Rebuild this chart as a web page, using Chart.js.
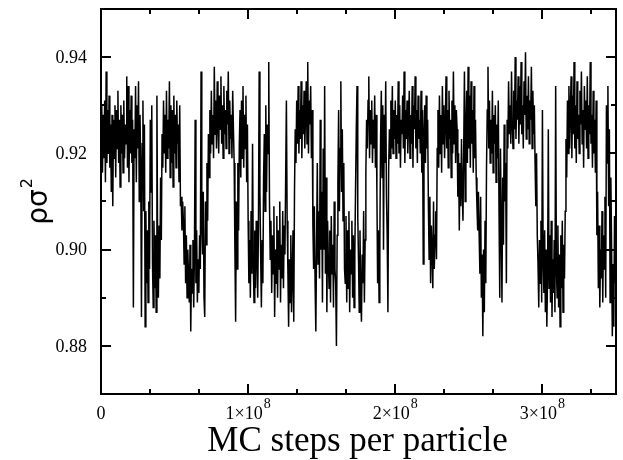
<!DOCTYPE html>
<html>
<head>
<meta charset="utf-8">
<script src="https://cdn.jsdelivr.net/npm/chart.js@4"></script>
<style>
  html, body { margin: 0; padding: 0; background: #fff; }
  #wrap { width: 623px; height: 460px; }
</style>
</head>
<body>
<div id="wrap"><canvas id="chartCanvas"></canvas></div>
<script>
// one sample every half million MC steps, density in units of 1e-3
const sampleEvery = 5e5;
const densityMilli = [
    921, 930, 916, 928, 919, 931, 914, 937, 918, 929, 920, 932, 917, 926, 912, 928, 909, 927, 919, 930,
    915, 929, 921, 933, 918, 927, 913, 930, 920, 928, 916, 931, 919, 926, 922, 936, 917, 934, 914, 929,
    920, 932, 918, 927, 888, 925, 919, 934, 914, 930, 921, 935, 910, 928, 917, 886, 922, 931, 908, 926,
    884, 908, 893, 904, 889, 910, 896, 927, 912, 930, 897, 888, 906, 892, 903, 887, 932, 899, 890, 905,
    894, 915, 902, 924, 917, 931, 920, 928, 916, 933, 919, 927, 921, 935, 915, 930, 918, 929, 913, 932,
    920, 928, 917, 931, 922, 926, 914, 930, 909, 911, 904, 910, 906, 897, 909, 893, 903, 890, 900, 894,
    889, 901, 883, 896, 891, 902, 888, 899, 927, 893, 904, 889, 898, 891, 903, 896, 937, 905, 899, 912,
    890, 886, 910, 901, 918, 906, 924, 915, 929, 920, 933, 922, 928, 919, 938, 924, 931, 921, 935, 926,
    920, 932, 925, 936, 922, 930, 919, 934, 924, 929, 921, 933, 926, 937, 920, 931, 923, 928, 919, 933,
    925, 918, 900, 885, 910, 896, 918, 904, 922, 929, 915, 931, 919, 934, 917, 928, 921, 932, 914, 926,
    906, 893, 902, 890, 908, 895, 922, 897, 889, 904, 892, 906, 899, 890, 905, 937, 912, 899, 888, 902,
    893, 915, 924, 908, 930, 912, 926, 920, 939, 910, 898, 906, 891, 903, 895, 909, 886, 900, 893, 907,
    890, 904, 896, 910, 889, 901, 894, 908, 892, 905, 899, 915, 931, 906, 896, 884, 898, 889, 903, 887,
    895, 904, 885, 912, 925, 918, 931, 922, 934, 920, 929, 923, 935, 919, 930, 924, 933, 921, 928, 935,
    922, 939, 920, 931, 926, 934, 919, 929, 905, 896, 909, 893, 883, 901, 918, 897, 908, 894, 927, 900,
    912, 889, 921, 900, 934, 895, 915, 887, 906, 898, 892, 904, 889, 907, 895, 901, 888, 910, 896, 893,
    880, 903, 914, 929, 908, 921, 935, 912, 925, 906, 918, 896, 893, 907, 889, 904, 892, 908, 887, 900,
    895, 906, 890, 903, 888, 899, 913, 925, 934, 907, 898, 887, 904, 891, 885, 899, 893, 908, 889, 902,
    916, 927, 921, 931, 936, 919, 929, 922, 931, 918, 927, 921, 932, 917, 928, 912, 893, 904, 889, 901,
    923, 933, 915, 930, 900, 928, 918, 935, 911, 903, 887, 917, 925, 919, 931, 921, 934, 920, 929, 923,
    931, 919, 928, 922, 935, 920, 930, 917, 927, 924, 932, 921, 937, 918, 929, 923, 931, 920, 926, 933,
    919, 928, 922, 934, 917, 930, 925, 936, 921, 929, 918, 932, 923, 927, 920, 933, 916, 929, 897, 924,
    930, 918, 932, 921, 927, 909, 898, 911, 893, 905, 900, 892, 910, 896, 903, 908, 898, 921, 929, 917,
    932, 920, 928, 916, 934, 922, 930, 919, 926, 936, 921, 929, 917, 933, 923, 927, 915, 931, 920, 937,
    922, 930, 918, 929, 925, 911, 920, 904, 918, 909, 923, 912, 906, 921, 937, 910, 925, 933, 918, 938,
    921, 932, 917, 935, 922, 929, 916, 934, 919, 927, 915, 909, 904, 912, 903, 895, 911, 890, 899, 882,
    900, 887, 906, 893, 917, 929, 938, 921, 931, 918, 927, 920, 933, 916, 928, 922, 930, 914, 926, 919,
    931, 908, 890, 921, 905, 889, 915, 901, 926, 910, 918, 893, 927, 921, 935, 924, 930, 922, 937, 926,
    921, 933, 925, 940, 923, 931, 927, 936, 922, 934, 926, 939, 924, 930, 921, 935, 928, 941, 923, 932,
    925, 936, 922, 931, 927, 938, 921, 933, 924, 930, 918, 909, 920, 903, 897, 888, 902, 893, 906, 889,
    929, 898, 891, 904, 887, 900, 884, 895, 925, 892, 903, 889, 906, 886, 898, 891, 902, 887, 934, 896,
    890, 905, 888, 899, 884, 903, 892, 906, 887, 901, 894, 908, 923, 915, 931, 920, 934, 921, 929, 936,
    919, 932, 924, 939, 921, 930, 918, 935, 923, 928, 920, 933, 926, 937, 922, 929, 917, 934, 925, 931,
    921, 936, 919, 930, 924, 939, 922, 928, 917, 933, 920, 927, 916, 931, 903, 912, 892, 905, 888, 900,
    894, 908, 889, 903, 896, 911, 890, 930, 918, 934, 909, 925, 889, 915, 901, 882, 897, 884, 907, 893
];

const xTickValues = [0, 1e8, 2e8, 3e8];
const xTickMantissa = ['0', '1×10', '2×10', '3×10'];
const xTickExponent = ['', '8', '8', '8'];
const xMinorStep = 1e8 / 3;
const yTickValues = [0.88, 0.90, 0.92, 0.94];
const yTickLabels = ['0.88', '0.90', '0.92', '0.94'];
const yMinorTicks = [0.87, 0.89, 0.91, 0.93, 0.95];

const serif = '"Liberation Serif", "Times New Roman", serif';
const sans = '"DejaVu Sans", sans-serif';

const points = densityMilli.map((v, i) => ({ x: i * sampleEvery, y: v / 1000 }));

function tick(ctx, x1, y1, x2, y2) {
    ctx.beginPath();
    ctx.moveTo(x1, y1);
    ctx.lineTo(x2, y2);
    ctx.stroke();
}

const framePlugin = {
    id: 'frame',
    afterDraw(chart) {
        const { ctx, chartArea: a, scales: { x, y } } = chart;
        ctx.save();
        ctx.strokeStyle = '#000';
        ctx.fillStyle = '#000';
        ctx.lineWidth = 2;
        ctx.strokeRect(a.left, a.top, a.right - a.left, a.bottom - a.top);

        // ticks point inward on all four sides
        for (let i = 0; i * xMinorStep < x.max; i++) {
            const px = Math.round(x.getPixelForValue(i * xMinorStep));
            const len = i % 3 === 0 ? 10 : 5;
            tick(ctx, px, a.bottom, px, a.bottom - len);
            tick(ctx, px, a.top, px, a.top + len);
        }
        yTickValues.concat(yMinorTicks).forEach(v => {
            const py = Math.round(y.getPixelForValue(v));
            const len = yTickValues.includes(v) ? 10 : 5;
            tick(ctx, a.left, py, a.left + len, py);
            tick(ctx, a.right, py, a.right - len, py);
        });

        // y tick labels
        ctx.font = '18px ' + serif;
        ctx.textAlign = 'right';
        ctx.textBaseline = 'middle';
        yTickValues.forEach((v, i) => {
            ctx.fillText(yTickLabels[i], a.left - 14, y.getPixelForValue(v) + 1);
        });

        // x tick labels, exponent raised
        ctx.textBaseline = 'alphabetic';
        ctx.textAlign = 'left';
        xTickValues.forEach((v, i) => {
            ctx.font = '18px ' + serif;
            const wMain = ctx.measureText(xTickMantissa[i]).width;
            ctx.font = '14px ' + serif;
            const wExp = xTickExponent[i] ? ctx.measureText(xTickExponent[i]).width + 1 : 0;
            const left = x.getPixelForValue(v) - (wMain + wExp) / 2;
            ctx.font = '18px ' + serif;
            ctx.fillText(xTickMantissa[i], left, a.bottom + 25);
            if (wExp) {
                ctx.font = '14px ' + serif;
                ctx.fillText(xTickExponent[i], left + wMain + 1, a.bottom + 14);
            }
        });

        // axis titles
        ctx.font = '35px ' + serif;
        ctx.textAlign = 'center';
        ctx.fillText('MC steps per particle', (a.left + a.right) / 2 - 1, a.bottom + 57);

        ctx.translate(47, (a.top + a.bottom) / 2);
        ctx.rotate(-Math.PI / 2);
        ctx.font = '28px ' + sans;
        const wRho = ctx.measureText('ρσ').width;
        ctx.font = '16px ' + sans;
        const wTwo = ctx.measureText('2').width;
        const start = -(wRho + wTwo + 1) / 2;
        ctx.textAlign = 'left';
        ctx.font = '28px ' + sans;
        ctx.fillText('ρσ', start, 0);
        ctx.font = '16px ' + sans;
        ctx.fillText('2', start + wRho + 1, -15);
        ctx.restore();
    }
};

const chart = new Chart(document.getElementById('chartCanvas'), {
    type: 'line',
    data: {
        datasets: [{
            data: points,
            borderColor: '#000',
            borderWidth: 1.5,
            pointRadius: 0,
            tension: 0,
            fill: false
        }]
    },
    options: {
        responsive: true,
        maintainAspectRatio: false,
        animation: false,
        layout: { padding: { left: 0, right: 7, top: 9, bottom: 0 } },
        plugins: { legend: { display: false }, tooltip: { enabled: false } },
        scales: {
            x: {
                type: 'linear',
                min: 0,
                max: 3.5e8,
                grid: { display: false },
                border: { display: false },
                ticks: { display: false },
                afterFit(scale) { scale.height = 66; }
            },
            y: {
                min: 0.87,
                max: 0.95,
                grid: { display: false },
                border: { display: false },
                ticks: { display: false },
                afterFit(scale) { scale.width = 101; }
            }
        }
    },
    plugins: [framePlugin]
});
</script>
</body>
</html>
